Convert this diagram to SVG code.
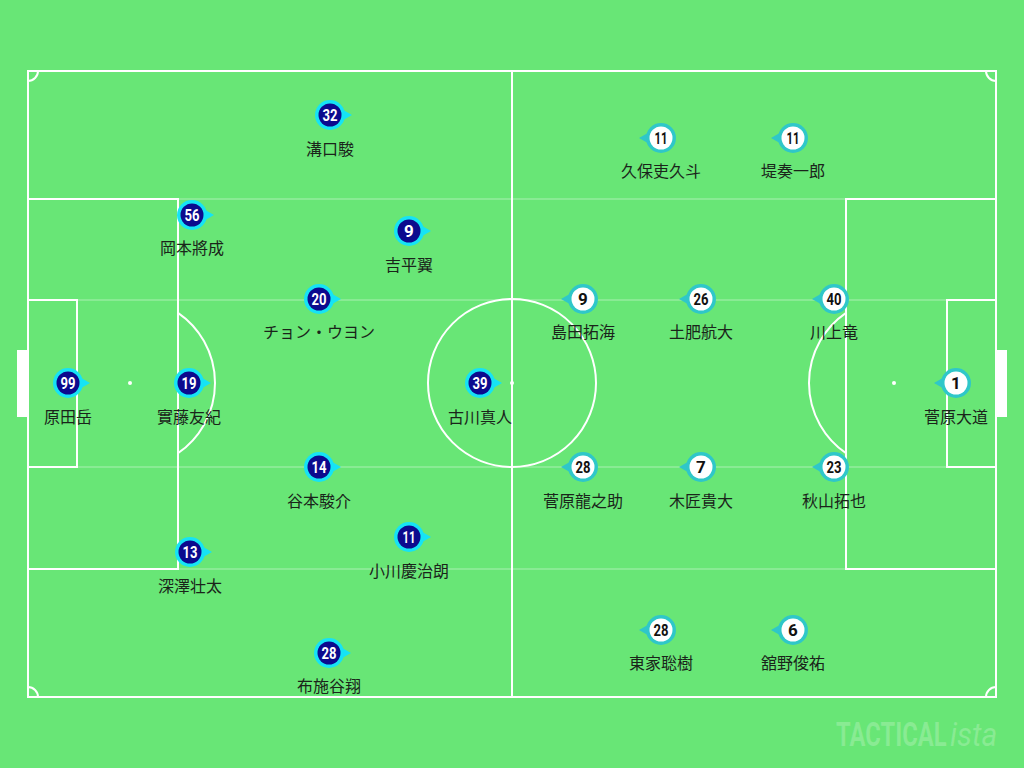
<svg xmlns="http://www.w3.org/2000/svg" width="1024" height="768" viewBox="0 0 1024 768">
<style>
.ln{fill:none;stroke:#fff;stroke-width:2}
.fl{stroke:#fff;stroke-opacity:0.3;stroke-width:1.5}
.nm{font-family:"Noto Sans CJK JP","Noto Sans",sans-serif;font-size:16px;fill:#1a241a;text-anchor:middle}
.num{font-family:Roboto,"DejaVu Sans",sans-serif;font-weight:bold;font-size:17px;text-anchor:middle;dominant-baseline:central}
.hn{fill:#fff}
.an{fill:#111}
.wm{font-family:Roboto,"DejaVu Sans",sans-serif;font-size:34px;fill:#fff;fill-opacity:0.22}
</style>
<defs>
<g id="hm"><path d="M8,-8 L22,0 L8,8 Z" fill="#16e3f5"/><circle r="15" fill="#16e3f5"/><circle r="11.5" fill="#0c0a8e"/></g>
<g id="am"><path d="M-8,-8 L-22,0 L-8,8 Z" fill="#2fc7c9"/><circle r="15" fill="#2fc7c9"/><circle r="11.5" fill="#fff"/></g>
</defs>
<rect width="1024" height="768" fill="#68e676"/>
<g id="pitch">
<line class="fl" x1="28" y1="199" x2="996" y2="199"/>
<line class="fl" x1="28" y1="300" x2="996" y2="300"/>
<line class="fl" x1="28" y1="467" x2="996" y2="467"/>
<line class="fl" x1="28" y1="569" x2="996" y2="569"/>
<rect class="ln" x="28" y="71" width="968" height="626"/>
<line class="ln" x1="512" y1="71" x2="512" y2="697"/>
<circle class="ln" cx="512" cy="383" r="84"/>
<circle cx="512" cy="383" r="2" fill="#fff"/>
<rect class="ln" x="28" y="199" width="150" height="370"/>
<rect class="ln" x="28" y="300" width="49" height="167"/>
<circle cx="130" cy="383" r="2" fill="#fff"/>
<path class="ln" d="M178,312.85 A85,85 0 0 1 178,453.15"/>
<rect x="17" y="350" width="11" height="67" fill="#fff"/>
<rect class="ln" x="846" y="199" width="150" height="370"/>
<rect class="ln" x="947" y="300" width="49" height="167"/>
<circle cx="894" cy="383" r="2" fill="#fff"/>
<path class="ln" d="M846,312.85 A85,85 0 0 0 846,453.15"/>
<rect x="996" y="350" width="11" height="67" fill="#fff"/>
<path class="ln" d="M28,81 A10,10 0 0 0 38,71"/>
<path class="ln" d="M986,71 A10,10 0 0 0 996,81"/>
<path class="ln" d="M38,697 A10,10 0 0 0 28,687"/>
<path class="ln" d="M996,687 A10,10 0 0 0 986,697"/>
</g>
<g id="connectors"></g>
<g id="home">
<g id="h32"><use href="#hm" x="330" y="115"/><text class="num hn" x="330" y="115" textLength="15" lengthAdjust="spacingAndGlyphs">32</text><text class="nm" x="330" y="155">溝口駿</text></g>
<g id="h56"><use href="#hm" x="192" y="215"/><text class="num hn" x="192" y="215" textLength="15" lengthAdjust="spacingAndGlyphs">56</text><text class="nm" x="192" y="254">岡本將成</text></g>
<g id="h9"><use href="#hm" x="409" y="231"/><text class="num hn" x="409" y="231">9</text><text class="nm" x="409" y="271">吉平翼</text></g>
<g id="h20"><use href="#hm" x="319" y="299"/><text class="num hn" x="319" y="299" textLength="15" lengthAdjust="spacingAndGlyphs">20</text><text class="nm" x="319" y="338">チョン・ウヨン</text></g>
<g id="h99"><use href="#hm" x="68" y="383"/><text class="num hn" x="68" y="383" textLength="15" lengthAdjust="spacingAndGlyphs">99</text><text class="nm" x="68" y="423">原田岳</text></g>
<g id="h19"><use href="#hm" x="189" y="383"/><text class="num hn" x="189" y="383" textLength="15" lengthAdjust="spacingAndGlyphs">19</text><text class="nm" x="189" y="423">實藤友紀</text></g>
<g id="h39"><use href="#hm" x="480" y="383"/><text class="num hn" x="480" y="383" textLength="15" lengthAdjust="spacingAndGlyphs">39</text><text class="nm" x="480" y="423">古川真人</text></g>
<g id="h14"><use href="#hm" x="319" y="467"/><text class="num hn" x="319" y="467" textLength="15" lengthAdjust="spacingAndGlyphs">14</text><text class="nm" x="319" y="507">谷本駿介</text></g>
<g id="h13"><use href="#hm" x="190" y="552"/><text class="num hn" x="190" y="552" textLength="15" lengthAdjust="spacingAndGlyphs">13</text><text class="nm" x="190" y="592">深澤壮太</text></g>
<g id="h11"><use href="#hm" x="409" y="537"/><text class="num hn" x="409" y="537" textLength="13" lengthAdjust="spacingAndGlyphs">11</text><text class="nm" x="409" y="577">小川慶治朗</text></g>
<g id="h28"><use href="#hm" x="329" y="653"/><text class="num hn" x="329" y="653" textLength="15" lengthAdjust="spacingAndGlyphs">28</text><text class="nm" x="329" y="692">布施谷翔</text></g>
</g>
<g id="away">
<g id="a11a"><use href="#am" x="661" y="138"/><text class="num an" x="661" y="138" textLength="13" lengthAdjust="spacingAndGlyphs">11</text><text class="nm" x="661" y="177">久保吏久斗</text></g>
<g id="a11b"><use href="#am" x="793" y="138"/><text class="num an" x="793" y="138" textLength="13" lengthAdjust="spacingAndGlyphs">11</text><text class="nm" x="793" y="177">堤奏一郎</text></g>
<g id="a9"><use href="#am" x="583" y="299"/><text class="num an" x="583" y="299">9</text><text class="nm" x="583" y="338">島田拓海</text></g>
<g id="a26"><use href="#am" x="701" y="299"/><text class="num an" x="701" y="299" textLength="15" lengthAdjust="spacingAndGlyphs">26</text><text class="nm" x="701" y="338">土肥航大</text></g>
<g id="a40"><use href="#am" x="834" y="299"/><text class="num an" x="834" y="299" textLength="15" lengthAdjust="spacingAndGlyphs">40</text><text class="nm" x="834" y="338">川上竜</text></g>
<g id="a1"><use href="#am" x="956" y="383"/><text class="num an" x="956" y="383">1</text><text class="nm" x="956" y="423">菅原大道</text></g>
<g id="a28a"><use href="#am" x="583" y="467"/><text class="num an" x="583" y="467" textLength="15" lengthAdjust="spacingAndGlyphs">28</text><text class="nm" x="583" y="507">菅原龍之助</text></g>
<g id="a7"><use href="#am" x="701" y="467"/><text class="num an" x="701" y="467">7</text><text class="nm" x="701" y="507">木匠貴大</text></g>
<g id="a23"><use href="#am" x="834" y="467"/><text class="num an" x="834" y="467" textLength="15" lengthAdjust="spacingAndGlyphs">23</text><text class="nm" x="834" y="507">秋山拓也</text></g>
<g id="a28b"><use href="#am" x="661" y="630"/><text class="num an" x="661" y="630" textLength="15" lengthAdjust="spacingAndGlyphs">28</text><text class="nm" x="661" y="669">東家聡樹</text></g>
<g id="a6"><use href="#am" x="793" y="630"/><text class="num an" x="793" y="630">6</text><text class="nm" x="793" y="669">舘野俊祐</text></g>
</g>
<text class="wm" font-weight="bold" transform="translate(836,746) scale(0.7,1)">TACTICAL</text>
<text class="wm" font-style="italic" transform="translate(950,746) scale(0.88,1)">ista</text>
</svg>
